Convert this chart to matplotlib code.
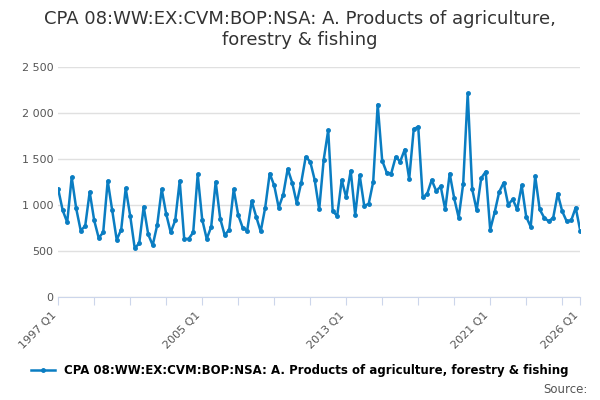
import matplotlib.pyplot as plt
import numpy as np

plt.rcParams["font.family"] = "DejaVu Sans"

# quarterly values, 1997 Q1 .. 2026 Q1
values = [
    1170, 940, 810, 1300, 960, 720, 770, 1140, 830, 640, 700, 1260,
    940, 620, 730, 1180, 880, 530, 580, 980, 680, 560, 780, 1170,
    900, 700, 830, 1260, 630, 630, 700, 1330, 840, 630, 760, 1250,
    850, 670, 730, 1170, 890, 750, 720, 1040, 870, 710, 970, 1340,
    1210, 970, 1110, 1390, 1240, 1020, 1240, 1520, 1470, 1270, 950, 1490,
    1810, 930, 880, 1270, 1080, 1370, 890, 1320, 990, 1010, 1250, 2090,
    1480, 1350, 1340, 1520, 1470, 1600, 1280, 1820, 1850, 1080, 1120, 1270,
    1150, 1200, 950, 1340, 1070, 860, 1230, 2210, 1170, 940, 1290, 1360,
    730, 920, 1140, 1240, 1000, 1060, 950, 1210, 870, 760, 1310, 950,
    860, 820, 860, 1120, 930, 820, 830, 970, 720,
]
labels = [f"{1997 + i // 4} Q{i % 4 + 1}" for i in range(len(values))]
shown = ["1997 Q1", "2005 Q1", "2013 Q1", "2021 Q1", "2026 Q1"]
series_name = "CPA 08:WW:EX:CVM:BOP:NSA: A. Products of agriculture, forestry & fishing"

fig, ax = plt.subplots(figsize=(6, 4), dpi=100)
fig.subplots_adjust(left=0.097, right=0.967, top=0.833, bottom=0.258)

x = np.arange(len(values))
ax.plot(x, values, color="#0a7dc2", lw=1.8, marker="o", ms=2.5)

ax.set_ylim(0, 2500)
ax.set_yticks(range(0, 2501, 500))
ax.set_yticklabels(["0", "500", "1 000", "1 500", "2 000", "2 500"])
ax.yaxis.grid(True, color="#e0e0e0", lw=1)
ax.set_axisbelow(True)
ax.tick_params(axis="y", length=0, labelsize=8, colors="#555555")

ax.set_xlim(0, len(values) - 1)
ticks = list(range(0, len(values), 8)) + [len(values) - 1]
ax.set_xticks(ticks)
ax.set_xticklabels([labels[i] if labels[i] in shown else "" for i in ticks],
                   rotation=45, ha="right", fontsize=8, color="#555555")
ax.tick_params(axis="x", length=6, color="#ccd6eb")

for s in ["top", "right", "left"]:
    ax.spines[s].set_visible(False)
ax.spines["bottom"].set_color("#ccd6eb")

fig.suptitle("CPA 08:WW:EX:CVM:BOP:NSA: A. Products of agriculture,\nforestry & fishing",
             fontsize=13, color="#333333", y=0.975)
fig.legend([ax.lines[0]], [series_name], loc="lower center", bbox_to_anchor=(0.5, 0.03),
           frameon=False, fontsize=8.5, handlelength=2,
           prop={"weight": "bold", "size": 8.5})
fig.text(0.98, 0.01, "Source:", ha="right", va="bottom", fontsize=8.5, color="#555555")

fig.savefig("out.png")
